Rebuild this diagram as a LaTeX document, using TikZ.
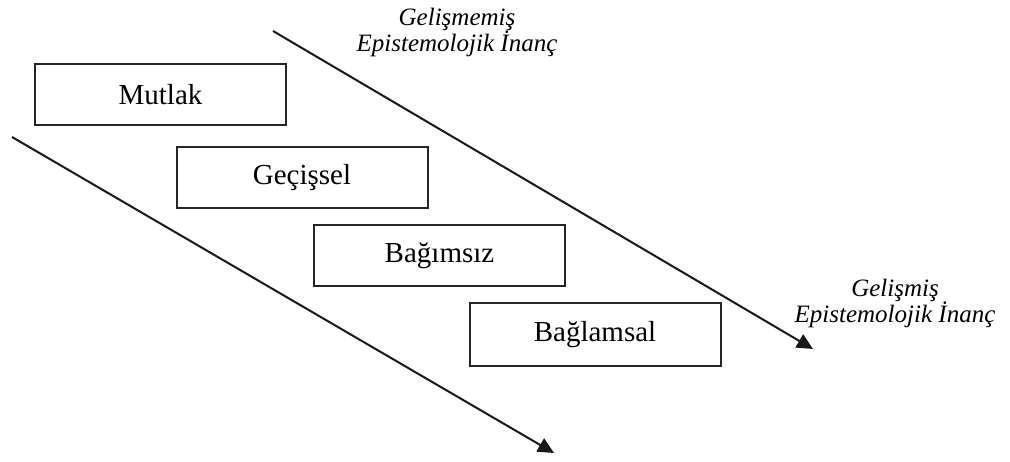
\documentclass[tikz,border=0pt]{standalone}
\usepackage{fontspec}
\setmainfont{Liberation Serif}
\usetikzlibrary{arrows.meta}
\tikzset{
  stage/.style={draw=black!85, line width=2pt, minimum width=251pt, minimum height=61pt, inner sep=0pt, font=\fontsize{29}{32}\selectfont},
  axis/.style={draw=black!90, line width=2pt, -{Triangle[length=16pt,width=15pt]}},
  lbl/.style={align=center, font=\fontsize{25}{25}\selectfont\itshape, inner sep=0pt}
}
\begin{document}
\begin{tikzpicture}[x=1pt,y=-1pt]
\useasboundingbox (0,0) rectangle (1010,462);
\node[stage] (mutlak) at (160.5,94.5) {Mutlak};
\node[stage] (gecissel) at (302,177.5) {Geçişsel};
\node[stage] (bagimsiz) at (439.5,256) {Bağımsız};
\node[stage, minimum height=63pt] (baglamsal) at (595,335) {Bağlamsal};
\coordinate (a1s) at (273,31);
\coordinate (a1e) at (813,349);
\coordinate (a2s) at (12,137);
\coordinate (a2e) at (554,453);
\draw[axis] (a1s) -- (a1e);
\draw[axis] (a2s) -- (a2e);
\node[lbl, anchor=base] (top) at (457,52) {Gelişmemiş\\Epistemolojik İnanç};
\node[lbl, anchor=base] (right) at (895,323) {Gelişmiş\\Epistemolojik İnanç};
\end{tikzpicture}
\end{document}
